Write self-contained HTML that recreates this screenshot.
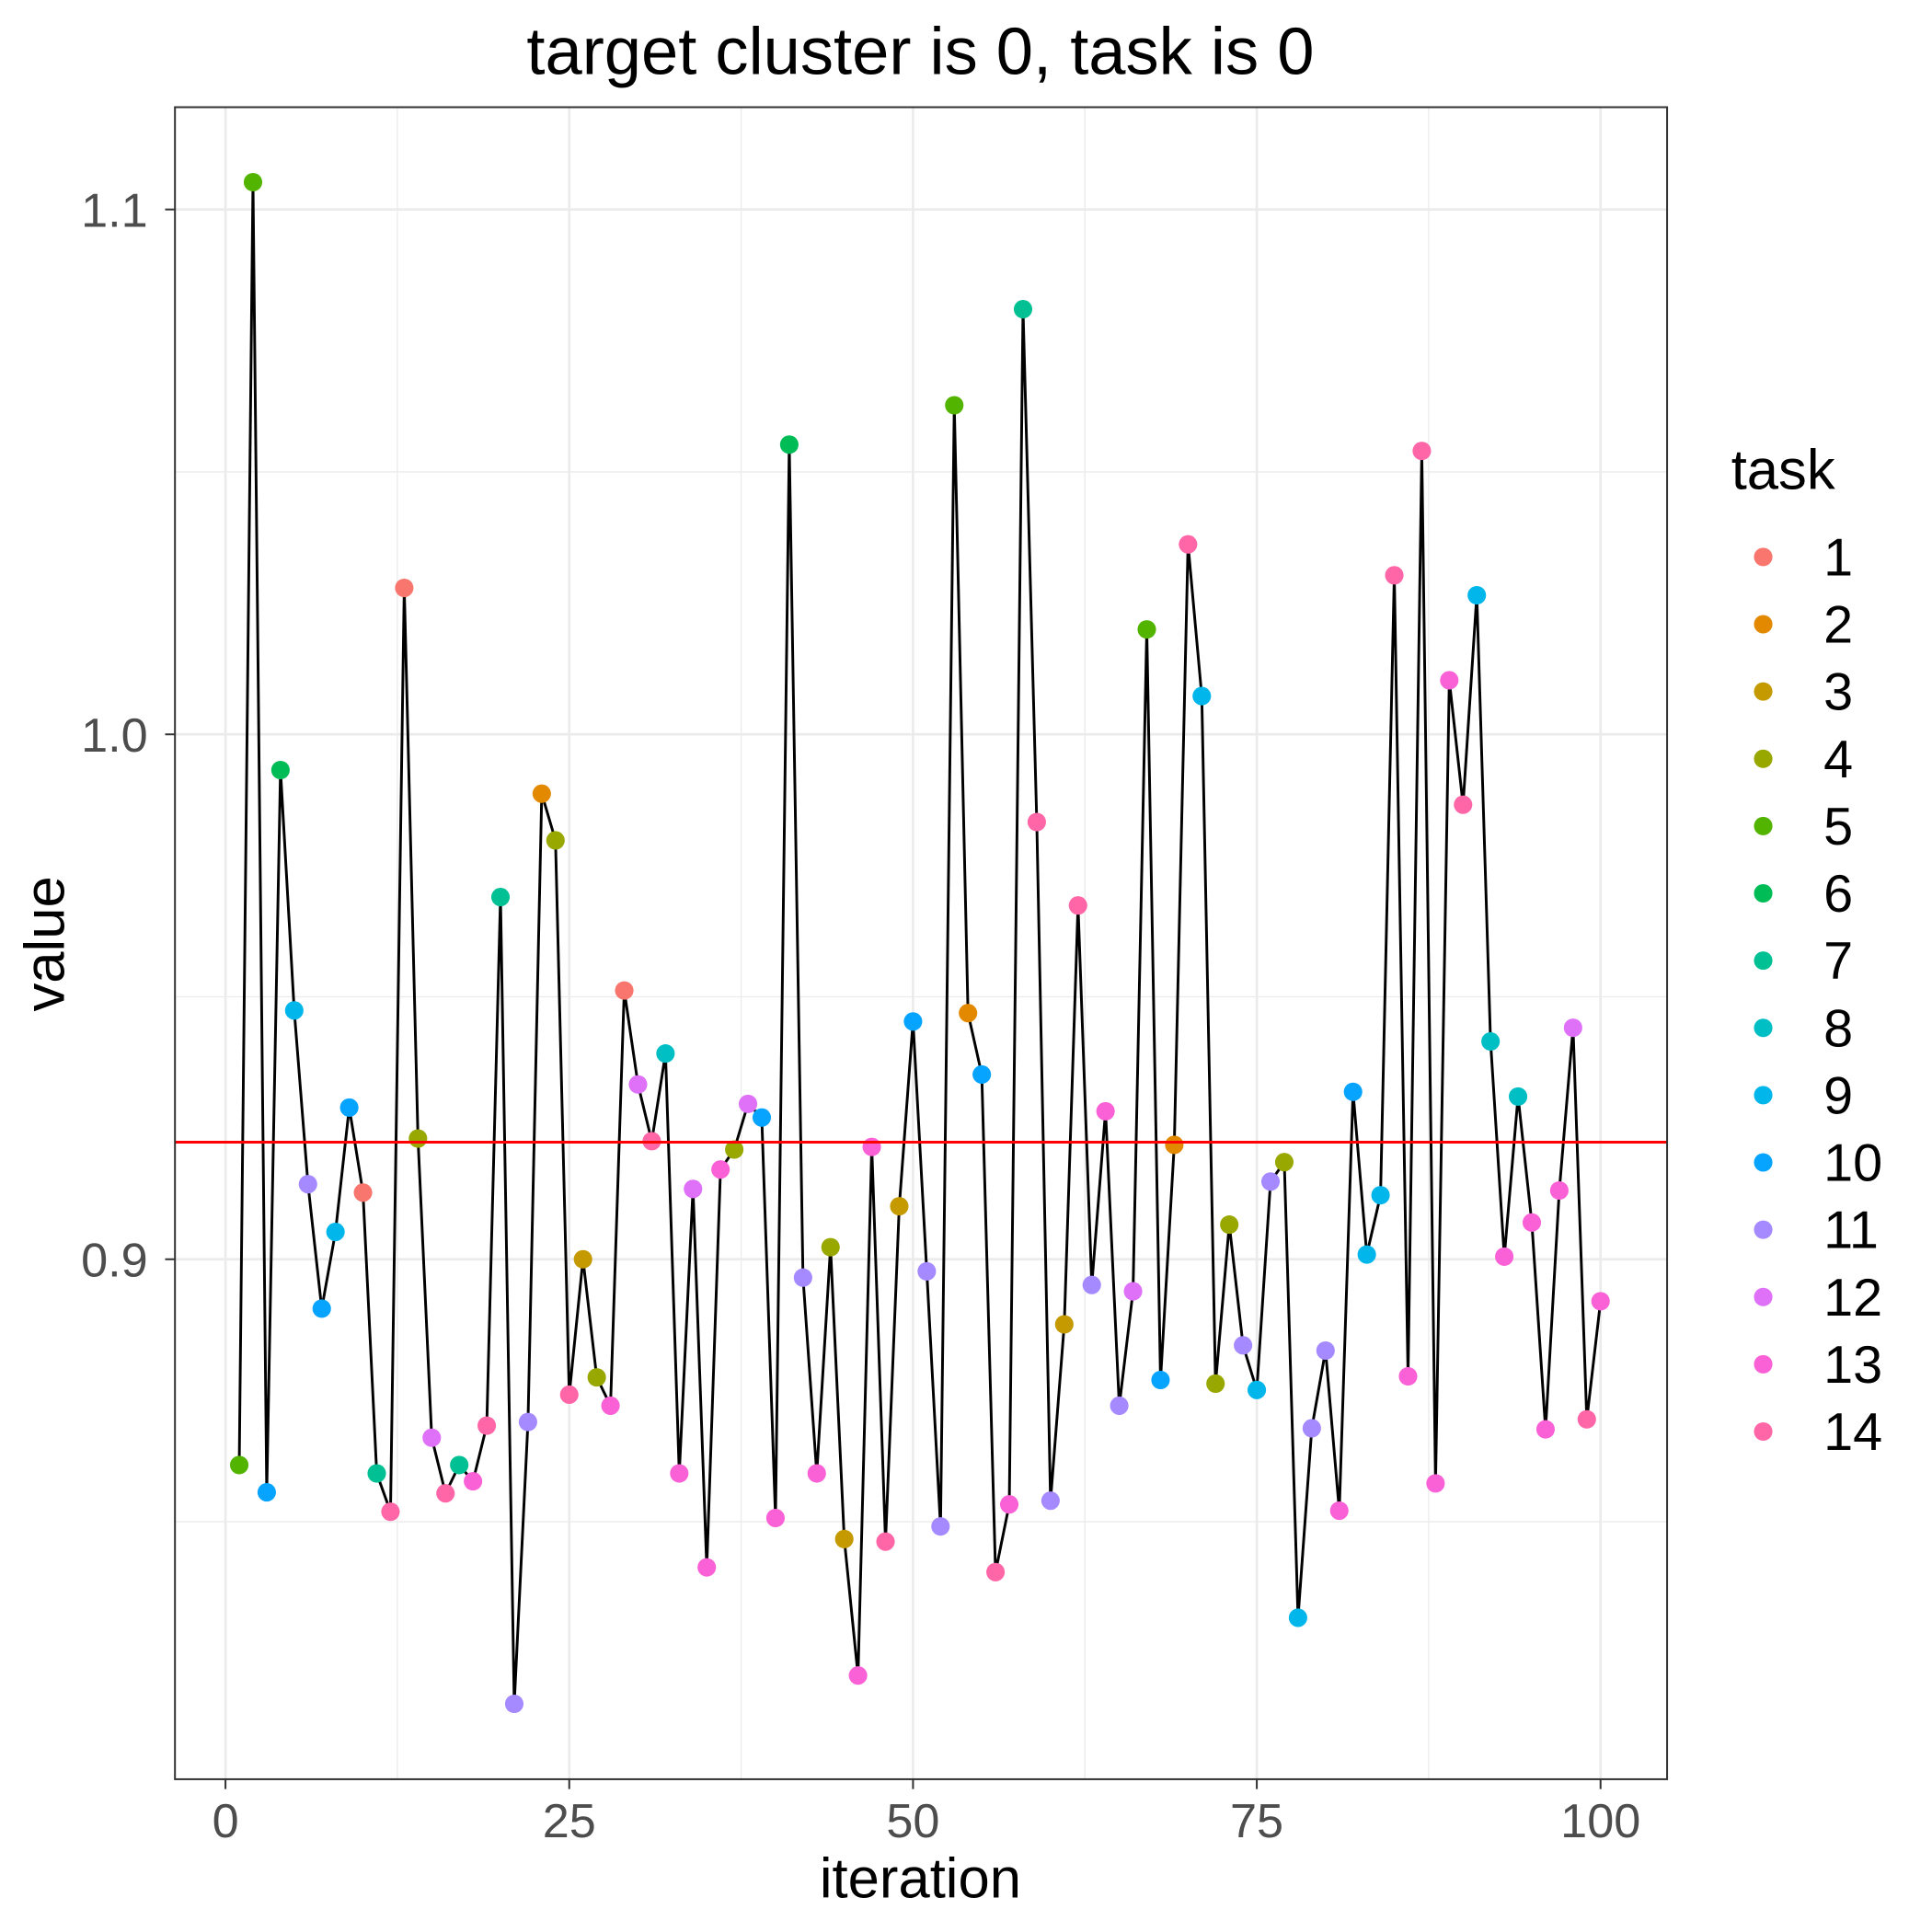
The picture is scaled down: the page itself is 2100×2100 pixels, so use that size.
<!DOCTYPE html>
<html><head><meta charset="utf-8"><style>
html,body{margin:0;padding:0;background:#fff;}
svg{display:block;font-family:"Liberation Sans",Arial,sans-serif;}
</style></head><body>
<svg id="chart" width="2100" height="2100" viewBox="0 0 1568 1568" xmlns="http://www.w3.org/2000/svg">
<rect x="0" y="0" width="1568" height="1568" fill="#fff"/>
<text x="747" y="60" font-size="54" text-anchor="middle" fill="#000">target cluster is 0, task is 0</text>
<g id="grid"></g>
<g id="marks"></g>
<rect x="142" y="87" width="1211" height="1357" fill="none" stroke="#333" stroke-width="1.5"/>
<g id="axes"></g>
<text x="747" y="1540" font-size="46" text-anchor="middle" fill="#000">iteration</text>
<text transform="translate(52,766) rotate(-90)" font-size="46" text-anchor="middle" fill="#000">value</text>
<g id="legend"></g>
</svg>
<script>
const iterations=[];for(let i=1;i<=100;i++)iterations.push(i);
const values=[0.8608,1.1052,0.8556,0.9932,0.9474,0.9143,0.8906,0.9052,0.9289,0.9127,0.8592,0.8519,1.0279,0.9230,0.8660,0.8554,0.8608,0.8577,0.8683,0.9690,0.8153,0.8690,0.9887,0.9798,0.8742,0.9000,0.8775,0.8721,0.9512,0.9333,0.9225,0.9392,0.8592,0.9134,0.8413,0.9171,0.9209,0.9296,0.9270,0.8507,1.0552,0.8965,0.8592,0.9023,0.8467,0.8207,0.9214,0.8462,0.9101,0.9453,0.8977,0.8491,1.0627,0.9469,0.9352,0.8404,0.8533,1.0810,0.9833,0.8540,0.8876,0.9674,0.8951,0.9282,0.8721,0.8939,1.0200,0.8770,0.9218,1.0362,1.0073,0.8763,0.9066,0.8836,0.8751,0.9148,0.9185,0.8317,0.8678,0.8826,0.8521,0.9319,0.9009,0.9122,1.0303,0.8777,1.0540,0.8573,1.0103,0.9866,1.0265,0.9415,0.9005,0.9310,0.9070,0.8676,0.9131,0.9441,0.8695,0.8920];
const tasks=[5,5,10,6,9,11,10,9,10,1,7,14,1,4,12,14,7,13,14,7,11,11,2,4,14,3,4,13,1,12,14,8,13,12,13,13,4,12,10,13,6,11,13,4,3,13,13,14,3,10,11,11,5,2,10,14,13,7,14,11,3,14,11,13,11,12,5,10,2,14,9,4,4,11,9,11,4,9,11,11,13,10,9,9,14,13,14,13,13,14,9,8,13,8,13,13,13,12,14,13];
const taskLabels=["1","2","3","4","5","6","7","8","9","10","11","12","13","14"];
const taskColors=["#F8766D","#E38900","#C49A00","#99A800","#53B400","#00BC56","#00C094","#00BFC4","#00B6EB","#06A4FF","#A58AFF","#DF70F8","#FB61D7","#FF66A8"];
const refValue=0.9223;
const xTicks=[0,25,50,75,100];
const yTicks=[0.9,1.0,1.1];
const yTickLabels=["0.9","1.0","1.1"];
const xMinor=[12.5,37.5,62.5,87.5];
const yMinor=[0.85,0.95,1.05];

const NS="http://www.w3.org/2000/svg";
const L=142,R=1353,T=87,B=1444;
const X=v=>183+(v-0)*(1299-183)/100;
const Y=v=>596-(v-1.0)*4260;
function mk(tag,attrs,parent){const e=document.createElementNS(NS,tag);for(const k in attrs)e.setAttribute(k,attrs[k]);parent.appendChild(e);return e;}
const grid=document.getElementById('grid');
mk('rect',{x:L,y:T,width:R-L,height:B-T,fill:'#fff'},grid);
xMinor.forEach(v=>{const e=mk('line',{x1:X(v),x2:X(v),y1:T,y2:B,stroke:'#EBEBEB','stroke-width':1},grid);

});
yMinor.forEach(v=>{const e=mk('line',{x1:L,x2:R,y1:Y(v),y2:Y(v),stroke:'#EBEBEB','stroke-width':1},grid);

});
xTicks.forEach(v=>{const e=mk('line',{x1:X(v),x2:X(v),y1:T,y2:B,stroke:'#EBEBEB','stroke-width':2},grid);

});
yTicks.forEach(v=>{const e=mk('line',{x1:L,x2:R,y1:Y(v),y2:Y(v),stroke:'#EBEBEB','stroke-width':2},grid);

});

const marks=document.getElementById('marks');
const pts=iterations.map((it,i)=>X(it)+','+Y(values[i])).join(' ');
const line=mk('polyline',{points:pts,fill:'none',stroke:'#000','stroke-width':2.2},marks);


iterations.forEach((it,i)=>{const c=mk('circle',{cx:X(it),cy:Y(values[i]),r:7.5,fill:taskColors[tasks[i]-1]},marks);

});
const ref=mk('line',{x1:L,x2:R,y1:Y(refValue),y2:Y(refValue),stroke:'#FF0000','stroke-width':2.2},marks);



const axes=document.getElementById('axes');
xTicks.forEach(v=>{const t=mk('line',{x1:X(v),x2:X(v),y1:B,y2:B+8,stroke:'#333','stroke-width':1.5},axes);


const l=mk('text',{x:X(v),y:B+47,'font-size':39,'text-anchor':'middle',fill:'#4D4D4D'},axes);l.textContent=String(v);

});
yTicks.forEach((v,i)=>{const t=mk('line',{x1:L-8,x2:L,y1:Y(v),y2:Y(v),stroke:'#333','stroke-width':1.5},axes);


const l=mk('text',{x:L-22,y:Y(v)+14,'font-size':39,'text-anchor':'end',fill:'#4D4D4D'},axes);l.textContent=yTickLabels[i];

});

const leg=document.getElementById('legend');
const lt=mk('text',{x:1405,y:397,'font-size':46,fill:'#000'},leg);lt.textContent='task';


taskLabels.forEach((lab,i)=>{const y=452+i*54.6;
const c=mk('circle',{cx:1431,cy:y,r:7.5,fill:taskColors[i]},leg);


const t=mk('text',{x:1480,y:y+15,'font-size':43,fill:'#000'},leg);t.textContent=lab;

});
</script>
</body></html>
